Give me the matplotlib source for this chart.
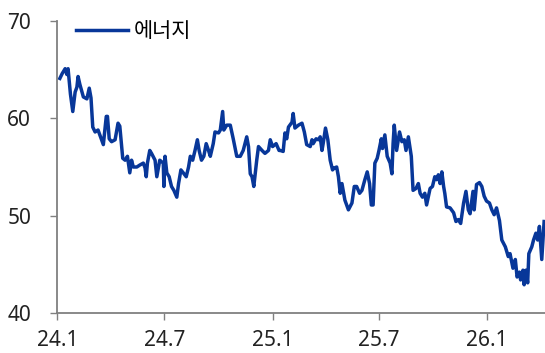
import pandas as pd
import matplotlib.pyplot as plt

plt.rcParams['font.family'] = ['Noto Sans', 'Noto Sans CJK KR', 'DejaVu Sans']

# index level, keyed by days since 2024-01-01
day_offsets = [
    4, 8, 13, 16, 18, 22, 26, 30, 33, 35, 38, 44, 50, 54, 57, 60, 64, 69, 72, 78,
    83, 85, 88, 92, 98, 103, 106, 111, 115, 119, 123, 126, 129, 135, 140, 146, 149, 151, 153, 157,
    160, 166, 169, 174, 180, 181, 183, 186, 190, 194, 198, 203, 206, 210, 214, 219, 223, 226, 230, 234,
    238, 241, 245, 249, 253, 257, 260, 265, 268, 274, 277, 281, 283, 288, 294, 299, 305, 311, 316, 322,
    325, 328, 331, 334, 339, 342, 348, 353, 359, 362, 366, 372, 377, 379, 384, 387, 390, 393, 399, 401,
    404, 410, 416, 420, 424, 430, 433, 435, 440, 444, 447, 450, 452, 456, 460, 464, 468, 471, 475, 478,
    481, 484, 486, 489, 495, 501, 505, 509, 514, 518, 523, 527, 531, 534, 537, 540, 544, 547, 551, 553,
    557, 561, 566, 569, 571, 573, 577, 582, 586, 590, 593, 597, 602, 605, 610, 614, 617, 621, 625, 628,
    634, 638, 642, 645, 648, 651, 654, 657, 659, 662, 668, 674, 678, 682, 686, 691, 695, 699, 702, 707,
    709, 713, 718, 722, 726, 730, 735, 739, 743, 747, 752, 756, 762, 767, 770, 775, 779, 782, 786, 788,
    792, 794, 797, 800, 802, 807, 810, 814, 817, 820, 824, 828,
]
energy = [
    64.1, 64.6, 65.1, 64.5, 65.1, 62.5, 60.7, 62.7, 63.2, 64.3, 63.5, 62.2, 62.0, 63.1, 62.1, 59.1, 58.6, 58.8, 58.3, 57.3,
    60.2, 60.2, 57.9, 57.6, 57.8, 59.5, 59.2, 55.9, 55.7, 56.1, 54.4, 55.7, 55.0, 55.0, 55.2, 55.4, 54.9, 54.0, 55.4, 56.7,
    56.4, 55.7, 54.0, 55.7, 55.4, 53.0, 56.1, 54.4, 54.0, 53.0, 52.6, 51.9, 53.3, 54.7, 54.4, 54.0, 55.0, 56.1, 55.7, 56.7,
    57.8, 56.7, 55.7, 56.1, 57.4, 56.7, 56.1, 57.4, 58.6, 58.5, 58.8, 60.7, 58.8, 59.3, 59.3, 57.9, 56.1, 56.1, 56.7, 58.1,
    57.1, 54.3, 54.0, 53.0, 55.7, 57.1, 56.7, 56.4, 56.7, 57.8, 57.1, 57.4, 56.7, 56.7, 56.6, 58.5, 57.9, 59.1, 59.6, 60.5,
    59.0, 59.3, 59.5, 58.6, 57.3, 57.1, 57.8, 57.4, 57.9, 57.8, 58.1, 56.7, 57.4, 59.0, 57.8, 55.7, 54.7, 54.9, 55.0, 54.0,
    52.3, 53.3, 52.6, 51.6, 50.6, 51.3, 53.0, 53.0, 52.3, 52.6, 53.7, 54.5, 53.3, 51.1, 51.1, 55.4, 55.9, 56.7, 57.9, 56.9,
    58.3, 56.1, 55.4, 54.3, 57.4, 59.3, 56.7, 58.6, 57.6, 57.8, 56.7, 58.1, 56.1, 52.6, 52.8, 53.3, 52.3, 51.9, 52.3, 51.1,
    52.8, 53.0, 54.0, 53.7, 54.2, 53.3, 54.5, 53.0, 52.3, 50.9, 50.8, 50.3, 49.4, 49.6, 49.2, 51.3, 52.5, 50.6, 50.2, 52.5,
    50.6, 53.2, 53.4, 53.0, 52.0, 51.5, 51.3, 50.6, 50.1, 50.8, 49.5, 47.5, 46.8, 45.8, 46.1, 44.6, 45.5, 43.7, 44.2, 43.4,
    44.4, 42.9, 44.4, 43.1, 46.1, 46.8, 47.5, 48.2, 47.5, 48.9, 45.5, 49.4,
]

tick_dates = ['2024-01-01', '2024-07-01', '2025-01-01', '2025-07-01', '2026-01-01']
tick_labels = ['24.1', '24.7', '25.1', '25.7', '26.1']
y_ticks = [40, 50, 60, 70]

dates = pd.Timestamp('2024-01-01') + pd.to_timedelta(day_offsets, unit='D')

fig = plt.figure(figsize=(5.45, 3.53), dpi=100)
ax = fig.add_axes([0.1055, 0.1133, 0.8945, 0.8272])

ax.plot(dates, energy, color='#083799', lw=2.5, label='에너지', solid_joinstyle='round')

ax.set_xlim(pd.Timestamp('2024-01-01'), pd.Timestamp('2026-04-09 12:00'))
ax.set_ylim(40, 70)
ax.set_xticks(pd.to_datetime(tick_dates))
ax.set_xticklabels(tick_labels)
ax.set_yticks(y_ticks)

for side in ['top', 'right']:
    ax.spines[side].set_visible(False)
for side in ['left', 'bottom']:
    ax.spines[side].set_color('#808080')
    ax.spines[side].set_linewidth(1.3)

ax.tick_params(axis='both', direction='out', length=5, width=1.0, color='#808080',
               labelsize=15, labelcolor='#222222')
ax.tick_params(axis='y', pad=14)
ax.tick_params(axis='x', pad=7)

ax.legend(loc='upper left', bbox_to_anchor=(0.038, 1.0), frameon=False, fontsize=15,
          handlelength=2.5, handletextpad=0.25, borderpad=0, borderaxespad=0)

fig.savefig('out.png', dpi=100)
